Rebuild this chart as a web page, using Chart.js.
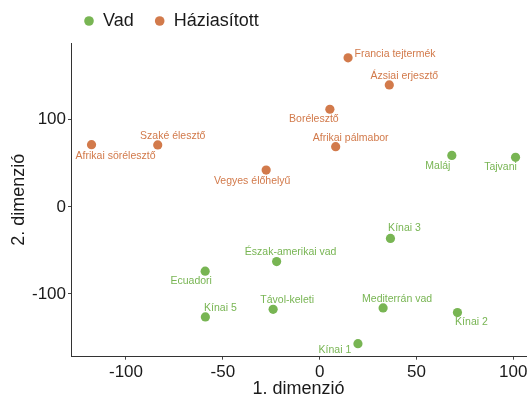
<!DOCTYPE html>
<html>
<head>
<meta charset="utf-8">
<script src="https://cdn.jsdelivr.net/npm/chart.js@4"></script>
<style>
  html, body { margin: 0; padding: 0; background: #fff; }
  #wrap { width: 531px; height: 398px; }
</style>
</head>
<body>
<div id="wrap"><canvas id="mdsChart" width="531" height="398"></canvas></div>
<script>
// Wild strains
const wildNames = ['Maláj', 'Tajvani', 'Kínai 3', 'Észak-amerikai vad', 'Ecuadori',
  'Távol-keleti', 'Mediterrán vad', 'Kínai 2', 'Kínai 5', 'Kínai 1'];
const wildX = [68.3, 101.2, 36.6, -22.2, -59.1, -24.0, 32.8, 71.2, -59.0, 19.8];
const wildY = [59.0, 56.8, -36.3, -62.8, -73.9, -117.6, -116.0, -121.4, -126.4, -157.0];

// Domesticated strains
const domNames = ['Afrikai sörélesztő', 'Szaké élesztő', 'Vegyes élőhelyű', 'Francia tejtermék',
  'Ázsiai erjesztő', 'Borélesztő', 'Afrikai pálmabor'];
const domX = [-117.8, -83.6, -27.6, 14.7, 36.0, 5.3, 8.3];
const domY = [71.3, 71.0, 42.2, 171.0, 139.9, 112.0, 69.0];

const xTicks = [-100, -50, 0, 50, 100];
const yTicks = [-100, 0, 100];

// label offsets in pixels (repel-style placement)
const wildLabelOffsets = [[-14, 11], [-15, 10], [14, -10], [14, -9], [-14, 10],
  [14, -9], [14, -9], [14, 10], [15, -9], [-23, 6]];
const domLabelOffsets = [[24, 11], [15, -9], [-14, 11], [47, -4], [15, -9], [-16, 10], [15, -9]];

const GREEN = '#78b553';
const ORANGE = '#d27a4b';

const toPoints = (xs, ys) => xs.map((x, i) => ({ x: x, y: ys[i] }));

const pointLabels = {
    id: 'pointLabels',
    afterDatasetsDraw(chart) {
        const ctx = chart.ctx;
        ctx.save();
        ctx.font = '10.5px "Liberation Sans", Arial, sans-serif';
        ctx.textAlign = 'center';
        ctx.textBaseline = 'middle';
        chart.data.datasets.forEach((ds, di) => {
            const meta = chart.getDatasetMeta(di);
            ctx.fillStyle = ds.backgroundColor;
            meta.data.forEach((pt, i) => {
                const off = ds.labelOffsets[i];
                ctx.fillText(ds.names[i], pt.x + off[0], pt.y + off[1]);
            });
        });
        ctx.restore();
    }
};

const topLegend = {
    id: 'topLegend',
    afterDraw(chart) {
        const ctx = chart.ctx;
        ctx.save();
        ctx.font = '18px "Liberation Sans", Arial, sans-serif';
        ctx.textBaseline = 'middle';
        ctx.textAlign = 'left';
        let x = 89;
        const y = 21;
        chart.data.datasets.forEach(ds => {
            ctx.fillStyle = ds.backgroundColor;
            ctx.beginPath();
            ctx.arc(x, y, 4.8, 0, Math.PI * 2);
            ctx.fill();
            ctx.fillStyle = '#1a1a1a';
            ctx.fillText(ds.label, x + 14, y);
            x += 14 + ctx.measureText(ds.label).width + 26;
        });
        ctx.restore();
    }
};

new Chart(document.getElementById('mdsChart'), {
    type: 'scatter',
    data: {
        datasets: [
            {
                label: 'Vad',
                data: toPoints(wildX, wildY),
                names: wildNames,
                labelOffsets: wildLabelOffsets,
                backgroundColor: GREEN,
                borderWidth: 0,
                pointRadius: 4.6
            },
            {
                label: 'Háziasított',
                data: toPoints(domX, domY),
                names: domNames,
                labelOffsets: domLabelOffsets,
                backgroundColor: ORANGE,
                borderWidth: 0,
                pointRadius: 4.6
            }
        ]
    },
    options: {
        responsive: false,
        animation: false,
        layout: { padding: { top: 43, right: 5, left: 0, bottom: 0 } },
        plugins: {
            legend: { display: false },
            tooltip: { enabled: false }
        },
        scales: {
            x: {
                type: 'linear',
                min: -128.4,
                max: 106.6,
                afterBuildTicks: (scale) => { scale.ticks = xTicks.map(v => ({ value: v })); },
                afterFit: (scale) => { scale.height = 41.3; },
                grid: { display: true, drawOnChartArea: false, drawTicks: true, tickLength: 3, color: '#444' },
                border: { display: true, color: '#333', width: 1 },
                ticks: {
                    padding: 2,
                    color: '#1a1a1a',
                    font: { family: '"Liberation Sans", Arial, sans-serif', size: 17 }
                },
                title: {
                    display: true,
                    text: '1. dimenzió',
                    color: '#1a1a1a',
                    padding: { top: 0, bottom: -2 },
                    font: { family: '"Liberation Sans", Arial, sans-serif', size: 18 }
                }
            },
            y: {
                type: 'linear',
                min: -172,
                max: 188,
                afterBuildTicks: (scale) => { scale.ticks = yTicks.map(v => ({ value: v })); },
                afterFit: (scale) => { scale.width = 71; },
                grid: { display: true, drawOnChartArea: false, drawTicks: true, tickLength: 3, color: '#444' },
                border: { display: true, color: '#333', width: 1 },
                ticks: {
                    padding: 2,
                    color: '#1a1a1a',
                    font: { family: '"Liberation Sans", Arial, sans-serif', size: 17 }
                },
                title: {
                    display: true,
                    text: '2. dimenzió',
                    color: '#1a1a1a',
                    padding: { top: 8, bottom: 0 },
                    font: { family: '"Liberation Sans", Arial, sans-serif', size: 18 }
                }
            }
        }
    },
    plugins: [pointLabels, topLegend]
});
</script>
</body>
</html>
